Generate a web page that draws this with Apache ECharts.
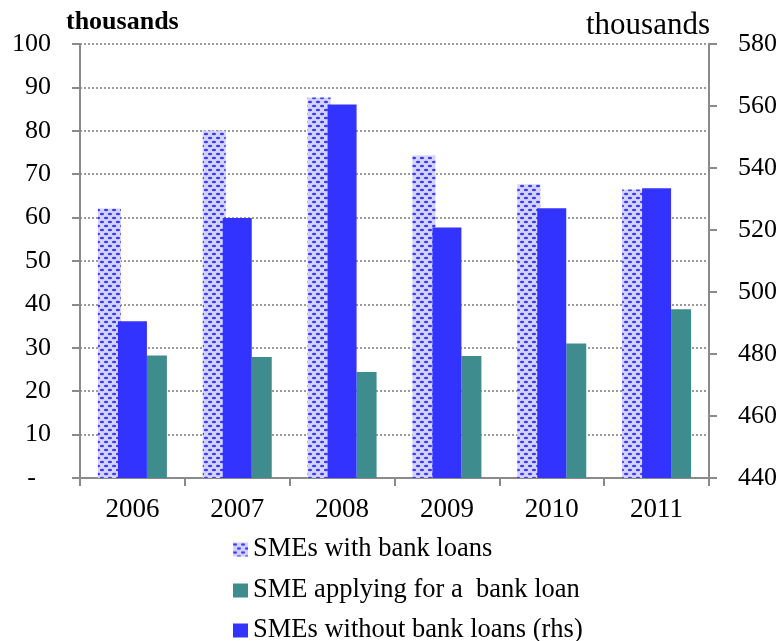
<!DOCTYPE html>
<html>
<head>
<meta charset="utf-8">
<script src="https://cdn.jsdelivr.net/npm/echarts@6/dist/echarts.min.js"></script>
<style>
  html, body { margin: 0; padding: 0; background: #fff; }
  #main { width: 782px; height: 641px; }
</style>
</head>
<body>
<div id="main"></div>
<script>
var years = ['2006', '2007', '2008', '2009', '2010', '2011'];
var withLoans = [62.1, 80.0, 87.7, 74.3, 67.7, 66.5];
var applying = [28.2, 27.9, 24.4, 28.1, 31.0, 38.9];
var withoutLoans = [490.6, 523.9, 560.5, 520.8, 527.0, 533.5]; // rhs

var FONT = "'Liberation Serif', 'Times New Roman', serif";

// dotted fill for "with bank loans"
function makePattern() {
  var c = document.createElement('canvas');
  c.width = 8;
  c.height = 8;
  var ctx = c.getContext('2d');
  ctx.fillStyle = '#d4d4fa';
  ctx.fillRect(0, 0, 8, 8);
  ctx.fillStyle = '#3a3aff';
  ctx.beginPath();
  ctx.ellipse(2, 2, 2.2, 1.2, 0, 0, Math.PI * 2);
  ctx.fill();
  ctx.beginPath();
  ctx.ellipse(6, 6, 2.2, 1.2, 0, 0, Math.PI * 2);
  ctx.fill();
  return { image: c, repeat: 'repeat' };
}

var chart = echarts.init(document.getElementById('main'));
var axisCol = '#8a8a8a';

var option = {
  backgroundColor: '#ffffff',
  animation: false,
  textStyle: { fontFamily: FONT },
  grid: { left: 80, right: 73, top: 44, bottom: 163 },
  graphic: [
    { type: 'text', left: 66, top: 9, style: { text: 'thousands', font: 'bold 26px ' + FONT, fill: '#000' } },
    { type: 'text', right: 72, top: 10, style: { text: 'thousands', font: '31px ' + FONT, fill: '#000' } }
  ],
  legend: [
    { data: ['SMEs with bank loans'] , left: 233, top: 536 },
    { data: ['SME applying for a  bank loan'], left: 233, top: 577 },
    { data: ['SMEs without bank loans (rhs)'], left: 233, top: 617 }
  ].map(function (l) {
    l.itemWidth = 15;
    l.itemHeight = 14;
    l.icon = 'rect';
    l.padding = 0;
    l.textStyle = { fontFamily: FONT, fontSize: 26.5, color: '#000' };
    return l;
  }),
  xAxis: [
    {
      type: 'category',
      data: years,
      axisLine: { lineStyle: { color: axisCol, width: 2 } },
      axisTick: { show: true, length: 8, lineStyle: { color: axisCol, width: 2 } },
      axisLabel: { fontFamily: FONT, fontSize: 27, color: '#000', margin: 18 }
    },
    {
      type: 'category',
      data: years,
      show: false
    }
  ],
  yAxis: [
    {
      type: 'value',
      min: 0,
      max: 100,
      interval: 10,
      axisLine: { show: true, lineStyle: { color: axisCol, width: 2 } },
      axisTick: { show: true, length: 8, lineStyle: { color: axisCol, width: 2 } },
      splitLine: { show: true, lineStyle: { color: '#7a7a7a', type: [2, 2], width: 1.5 } },
      axisLabel: {
        fontFamily: FONT, fontSize: 26, color: '#000', margin: 29,
        formatter: function (v) { return v === 0 ? '{d|-}' : String(v); },
        rich: { d: { fontFamily: FONT, fontSize: 26, color: '#000', padding: [0, 15, 0, 0] } }
      }
    },
    {
      type: 'value',
      min: 440,
      max: 580,
      interval: 20,
      position: 'right',
      axisLine: { show: true, lineStyle: { color: axisCol, width: 2 } },
      axisTick: { show: true, length: 8, lineStyle: { color: axisCol, width: 2 } },
      splitLine: { show: false },
      axisLabel: { fontFamily: FONT, fontSize: 26, color: '#000', margin: 29 }
    }
  ],
  series: [
    {
      name: 'SMEs with bank loans',
      type: 'bar',
      xAxisIndex: 0,
      yAxisIndex: 0,
      barWidth: 23,
      barGap: '113%',
      itemStyle: { color: makePattern() },
      data: withLoans
    },
    {
      name: 'SME applying for a  bank loan',
      type: 'bar',
      xAxisIndex: 0,
      yAxisIndex: 0,
      barWidth: 20,
      barGap: '113%',
      itemStyle: { color: '#3f8c8f' },
      data: applying
    },
    {
      name: 'SMEs without bank loans (rhs)',
      type: 'bar',
      xAxisIndex: 1,
      yAxisIndex: 1,
      barWidth: 29,
      itemStyle: { color: '#3333ff' },
      data: withoutLoans
    }
  ]
};

chart.setOption(option);
</script>
</body>
</html>
